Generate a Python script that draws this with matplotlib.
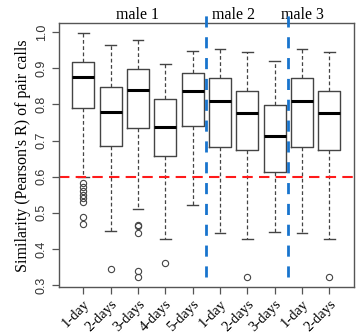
import numpy as np
import matplotlib
matplotlib.use("Agg")
import matplotlib.pyplot as plt

labels = ["1-day", "2-days", "3-days", "4-days", "5-days",
          "1-day", "2-days", "3-days", "1-day", "2-days"]
groups = ["male 1", "male 2", "male 3"]
group_centers = [3, 6.5, 9]

whislo = [0.600, 0.450, 0.510, 0.427, 0.522, 0.445, 0.426, 0.448, 0.445, 0.426]
q1 = [0.790, 0.686, 0.735, 0.656, 0.739, 0.683, 0.674, 0.613, 0.683, 0.674]
med = [0.876, 0.779, 0.840, 0.738, 0.838, 0.810, 0.776, 0.712, 0.810, 0.776]
q3 = [0.917, 0.848, 0.898, 0.815, 0.887, 0.874, 0.838, 0.798, 0.874, 0.838]
whishi = [0.998, 0.965, 0.978, 0.911, 0.949, 0.955, 0.945, 0.921, 0.955, 0.945]
fliers = [
    [0.583, 0.572, 0.561, 0.550, 0.540, 0.530, 0.489, 0.468],
    [0.345],
    [0.467, 0.463, 0.445, 0.339, 0.322],
    [0.360],
    [],
    [],
    [0.322],
    [],
    [],
    [0.322],
]

threshold = 0.6
separators = [5.5, 8.5]

stats = []
for i in range(len(labels)):
    stats.append(dict(whislo=whislo[i], q1=q1[i], med=med[i], q3=q3[i],
                      whishi=whishi[i], fliers=fliers[i], label=labels[i]))

fig = plt.figure(figsize=(3.59, 3.36), dpi=100)
ax = fig.add_axes([0.1635, 0.145, 0.8225, 0.7857])

edge = "#444444"
ax.bxp(stats, positions=np.arange(1, len(labels) + 1), widths=0.8,
       capwidths=0.4, patch_artist=False,
       boxprops=dict(color=edge, lw=1.0),
       whiskerprops=dict(color=edge, lw=0.9, ls=(0, (3, 2))),
       capprops=dict(color=edge, lw=1.0),
       medianprops=dict(color="black", lw=2.2),
       flierprops=dict(marker="o", markersize=4.5, markerfacecolor="none",
                       markeredgecolor=edge, markeredgewidth=0.8))

ax.axhline(threshold, color="#ff1a1a", lw=1.5, ls=(0, (5, 3)))
for s in separators:
    ax.plot([s, s], [0.323, 1.056], color="#1874CD", lw=2.0,
            ls=(0, (4, 3.5)), clip_on=False, zorder=5)

ax.set_xlim(0.1, 10.9)
ax.set_ylim(0.2936, 1.0249)
ax.set_yticks(np.arange(0.3, 1.01, 0.1))
ax.set_yticklabels(["%.1f" % v for v in np.arange(0.3, 1.01, 0.1)],
                   rotation=90, va="center", family="Liberation Sans",
                   fontsize=9, color="#333333")
ax.set_xticks(np.arange(1, len(labels) + 1))
ax.set_xticklabels(labels, rotation=45, ha="right", va="top",
                   rotation_mode="anchor", family="Liberation Serif",
                   fontsize=10.5)
ax.tick_params(axis="both", direction="out", length=5, color="#555555",
               width=0.9)
ax.tick_params(axis="x", pad=2)
ax.tick_params(axis="y", pad=3)
for sp in ax.spines.values():
    sp.set_color("#555555")
    sp.set_linewidth(1.0)

ax.set_ylabel("Similarity (Pearson's R) of pair calls",
              family="Liberation Serif", fontsize=11.5, labelpad=3)

for g, c in zip(groups, group_centers):
    ax.text(c, 1.048, g, ha="center", va="center",
            family="Liberation Serif", fontsize=11.5)

fig.savefig("out.png", dpi=100)
